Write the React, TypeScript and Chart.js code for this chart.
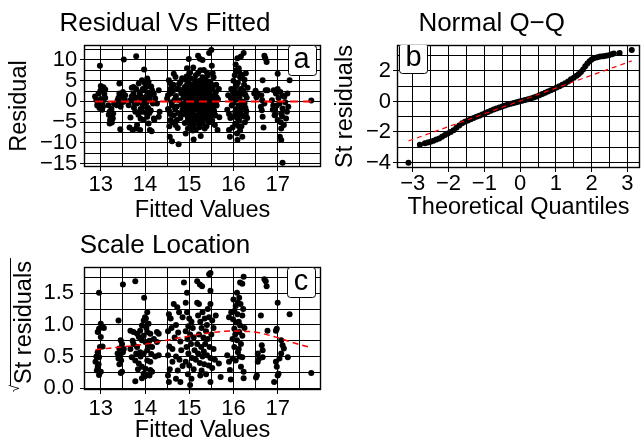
import React, { useEffect, useRef } from "react";
import { Chart, registerables } from "chart.js";

Chart.register(...registerables);

const FONT = '"Liberation Sans", Arial, Helvetica, sans-serif';

// ---------- Panel a: residual vs fitted (fitted, residual) ----------
const residualPoints: number[][] = [
  [12.87, 1.2], [12.9, 0.3], [12.93, -0.6], [12.95, 1.9], [12.97, -1.6], [12.98, 8.6], [13.0, 3.7], [13.02, 3.1],
  [12.99, 2.6], [13.03, -2.0], [13.05, -1.2], [13.0, 0.6], [13.06, 3.4], [13.08, 1.8], [13.1, 0.8], [12.92, -1.0],
  [13.04, -0.2], [13.1, 2.9],
  [13.17, -0.9], [13.18, -3.2], [13.2, -2.5], [13.22, -3.6], [13.21, -4.5], [13.25, -5.1], [13.27, -4.1], [13.24, -1.8],
  [13.28, -2.9], [13.2, -5.3], [13.3, -0.6], [13.26, -3.9],
  [13.36, -0.9], [13.38, 0.3], [13.42, 1.9], [13.42, 4.3], [13.44, -6.7], [13.45, -1.3], [13.48, 1.1], [13.52, -0.1],
  [13.52, 10.1], [13.5, 2.3], [13.55, 1.5], [13.4, 0.9], [13.46, -0.4], [13.54, 0.5],
  [13.63, -0.9], [13.65, -6.3], [13.67, 0.3], [13.67, -3.9], [13.7, 3.3], [13.72, -6.9], [13.74, 1.9], [13.74, 3.5],
  [13.76, -0.3], [13.78, -2.5], [13.8, 10.9], [13.8, -6.5], [13.82, -0.5], [13.82, -5.7], [13.84, 1.0], [13.86, 4.3],
  [13.88, 2.2], [13.89, 1.5], [13.89, -6.9], [13.9, -1.8], [13.92, 0.4], [13.93, 5.1], [13.93, -2.5], [13.95, 3.0],
  [13.7, 1.2], [13.75, -1.5], [13.85, -3.2], [13.78, 0.8],
  [13.8, 3.0], [13.9, -4.2], [14.0, 4.3], [14.1, -2.8], [14.05, 1.5], [13.95, -0.8], [14.2, 1.8],
  [13.97, 2.7], [13.97, -4.5], [13.98, 7.7], [14.0, -1.3], [14.01, 1.0], [14.03, 3.5], [14.04, -0.2], [14.05, 5.5],
  [14.05, -3.7], [14.06, 2.1], [14.08, 4.7], [14.08, -5.3], [14.1, 0.5], [14.11, -6.9], [14.12, 1.5], [14.13, -2.2],
  [14.15, -7.2], [14.16, 2.7], [14.18, -0.5], [14.2, -4.1], [14.21, -4.5], [14.23, 0.7], [14.27, -0.5], [14.31, 2.7],
  [14.31, -3.7], [14.33, -2.5], [14.0, 0.2], [14.02, -2.7], [14.14, 3.6], [14.07, -1.6],
  [14.5, 0.7], [14.52, -1.8], [14.54, 5.1], [14.54, -2.1], [14.56, -8.5], [14.57, 3.0], [14.58, 4.3], [14.58, 1.9],
  [14.58, -4.5], [14.6, -0.2], [14.61, -0.9], [14.61, -9.6], [14.63, 2.5], [14.65, 6.7], [14.65, -3.3], [14.67, 0.4],
  [14.69, 5.9], [14.69, -5.7], [14.7, 1.3], [14.72, -1.2], [14.73, 3.1], [14.75, -2.8], [14.76, -10.3], [14.77, 4.2],
  [14.78, 0.2], [14.8, 4.7], [14.8, -4.0], [14.82, 2.0], [14.83, -0.8], [14.84, 5.6], [14.85, -2.0], [14.55, -6.0],
  [14.62, -5.0], [14.74, -6.4],
  [14.52, 1.5], [14.57, -3.0], [14.64, 4.0], [14.68, -1.8], [14.72, -4.5], [14.79, 2.8], [14.82, -3.2], [14.6, 3.3],
  [14.87, 1.0], [14.88, -3.0], [14.9, 3.5], [14.9, -5.2], [14.92, -7.7], [14.93, 0.1], [14.94, 6.0], [14.95, -1.5],
  [14.96, 2.4], [14.97, -6.5], [14.98, 4.8], [14.99, 10.2], [15.0, -0.6], [15.0, -3.8], [15.01, 1.7], [15.02, 7.0],
  [15.03, -2.3], [15.04, 5.5], [15.05, -4.9], [15.06, 0.6], [15.07, 3.0], [15.08, -1.2], [15.09, 8.2], [15.1, -5.8],
  [15.1, -9.2], [15.11, 2.0], [15.12, -3.3], [15.13, 4.3], [15.14, -0.2], [15.15, 6.3], [14.97, -4.3], [15.03, 2.9],
  [15.08, -7.0], [14.91, 5.3], [15.12, 1.1],
  [15.16, -2.0], [15.17, 0.9], [15.18, 3.6], [15.19, -4.4], [15.2, 6.8], [15.2, 11.0], [15.21, -1.0], [15.22, 2.4],
  [15.23, -6.2], [15.24, 10.3], [15.24, 5.0], [15.25, -0.4], [15.26, -8.3], [15.27, 1.6], [15.28, -3.0], [15.29, 4.0],
  [15.3, 10.0], [15.3, -5.3], [15.31, -1.8], [15.32, 2.8], [15.33, 7.6], [15.34, 0.2], [15.35, -4.0], [15.36, 5.6],
  [15.37, -2.5], [15.38, 1.2], [15.39, -6.0], [15.4, 3.3], [15.41, -0.8], [15.42, 6.3], [15.43, -3.5], [15.44, 0.7],
  [15.45, 11.7], [15.45, -5.0], [15.22, -5.5], [15.27, -2.2], [15.33, 4.6], [15.38, -1.2], [15.26, 3.2], [15.41, 2.0],
  [15.46, 2.6], [15.47, -1.5], [15.48, 4.5], [15.49, -3.0], [15.5, 12.4], [15.5, 0.9], [15.51, 8.6], [15.52, -4.6],
  [15.53, 3.2], [15.54, -0.3], [15.55, 5.8], [15.56, -2.2], [15.57, 1.6], [15.58, -5.7], [15.6, 2.2], [15.62, -1.0],
  [15.64, -6.9], [15.65, 0.5], [15.67, 3.0], [15.68, -3.8], [15.53, 6.8], [15.59, -3.4], [15.61, 4.0],
  [14.88, -0.5], [14.9, 1.8], [14.92, -2.0], [14.95, 4.0], [14.98, -3.0], [15.0, 2.4], [15.02, -5.5], [15.05, 0.2],
  [15.06, -2.8], [15.1, 3.6], [15.12, 5.3], [15.14, -4.6], [15.16, 2.8], [15.18, -0.6], [15.2, 1.4], [15.22, 4.3],
  [15.24, -3.6], [15.28, 0.6], [15.3, 5.8], [15.32, -0.7], [15.34, -2.6], [15.36, 1.8], [15.38, 3.9], [15.4, -4.3],
  [15.42, -1.8], [15.44, 4.8], [15.46, -0.1], [15.48, 1.4], [15.5, -2.0], [15.52, 3.9], [15.55, -1.2], [15.58, 0.2],
  [15.6, -0.4], [15.47, -4.0], [15.35, -6.5], [15.15, -6.8], [15.0, 6.8],
  [14.86, 2.6], [14.89, -1.4], [14.93, 3.0], [14.96, -3.6], [14.99, 0.8], [15.01, -1.8], [15.04, 4.0], [15.07, -0.6],
  [15.09, 1.3], [15.11, -4.0], [15.13, -1.9], [15.17, 4.8], [15.19, 2.0], [15.21, 0.2], [15.23, -2.8], [15.25, 1.0],
  [15.29, -1.2], [15.31, 3.6], [15.35, -0.8], [15.37, 2.6], [15.39, -3.2], [15.43, 1.6], [15.45, -2.6], [15.49, 3.4],
  [15.51, -1.0], [15.54, 1.0], [15.57, -3.0], [15.62, 1.0], [15.18, -3.4], [15.28, -4.6], [15.03, -6.0], [15.4, 7.0],
  [15.25, 7.5], [14.95, 8.0],
  [15.86, -2.0], [15.88, 1.5], [15.9, -6.9], [15.92, -8.5], [15.93, -4.0], [15.95, 3.0], [15.96, -1.0], [15.97, 0.4],
  [15.98, -6.3], [15.99, 2.2], [15.9, -3.0], [15.94, 0.8],
  [16.0, 5.0], [16.01, -0.3], [16.02, -3.5], [16.03, 1.8], [16.04, -5.4], [16.05, 8.9], [16.05, 3.6], [16.06, -1.8],
  [16.07, 0.6], [16.08, -7.7], [16.09, 10.4], [16.09, -9.3], [16.1, 4.5], [16.1, -2.8], [16.11, 2.2], [16.12, -0.9],
  [16.13, 7.1], [16.13, -4.5], [16.14, 1.1], [16.15, 5.8], [16.16, -2.1], [16.17, 10.8], [16.17, 3.0], [16.18, -6.0],
  [16.19, 0.0], [16.2, -8.5], [16.2, 6.4], [16.21, -1.3], [16.22, 2.6], [16.23, 11.7], [16.23, -3.6], [16.24, 4.0],
  [16.25, -0.5], [16.26, -5.0], [16.27, 1.6], [16.28, 6.8], [16.29, -2.3], [16.3, 0.9], [16.31, -4.0], [16.32, 3.3],
  [16.03, 6.3], [16.08, -4.0], [16.15, -7.0], [16.02, 2.8], [16.12, 8.0], [16.18, -3.2], [16.27, -1.5],
  [16.01, 1.0], [16.04, -2.5], [16.07, 4.0], [16.11, -5.9], [16.14, -1.2], [16.19, 2.0], [16.22, -0.2], [16.25, 5.2],
  [16.28, -3.2], [16.06, 7.5],
  [16.47, 1.9], [16.5, 2.6], [16.52, 1.0], [16.55, 1.9], [16.62, -1.3], [16.64, -2.1], [16.65, 0.3], [16.66, 5.1],
  [16.66, -3.7], [16.68, -6.3], [16.7, 11.0], [16.72, 10.4], [16.75, 9.5], [16.7, -0.5], [16.73, 2.7], [16.77, 2.7],
  [16.63, 1.5],
  [16.87, 0.3], [16.89, -2.0], [16.91, 2.7], [16.93, -3.3], [16.94, -2.1], [16.96, 1.9], [16.98, -1.0], [17.0, 6.7],
  [17.0, -4.5], [17.02, 0.8], [17.04, -0.5], [17.05, -8.5], [17.06, 2.3], [17.07, -5.0], [17.08, -2.9], [17.08, -6.5],
  [17.08, -9.3], [17.1, -3.6], [17.11, -1.7], [17.11, -14.8], [17.12, 1.4], [17.14, -5.7], [17.15, 1.1], [17.17, -0.2],
  [17.19, -4.1], [17.21, -2.5], [17.22, 1.9], [17.24, -1.3], [17.27, 5.1], [16.9, -1.0], [17.0, 3.0],
  [17.76, 0.2],
];
const residualZeroLine: number[][] = [[12.87, 0], [17.76, 0]];

// ---------- Panel b: normal Q-Q (theoretical, standardized residual) ----------
const qqPoints: number[][] = [
  [-3.12, -4.01], [-2.8, -2.83], [-2.66, -2.73], [-2.58, -2.69], [-2.5, -2.64], [-2.42, -2.57], [-2.34, -2.5],
  [-2.26, -2.42], [-2.18, -2.31], [-2.1, -2.2], [-2.02, -2.1], [-1.94, -2.0], [-1.86, -1.88], [-1.78, -1.73],
  [-1.7, -1.58], [-1.62, -1.43], [-1.54, -1.33], [-1.46, -1.24], [-1.38, -1.16], [-1.3, -1.08], [-1.22, -1.0],
  [-1.14, -0.93], [-1.06, -0.85], [-0.98, -0.77], [-0.9, -0.69], [-0.82, -0.61], [-0.74, -0.53], [-0.66, -0.46],
  [-0.58, -0.39], [-0.5, -0.33], [-0.42, -0.27], [-0.34, -0.2], [-0.26, -0.15], [-0.18, -0.1], [-0.1, -0.05],
  [-0.02, 0.0], [0.06, 0.05], [0.14, 0.09], [0.22, 0.14], [0.3, 0.2], [0.38, 0.26], [0.46, 0.33], [0.54, 0.41],
  [0.62, 0.49], [0.7, 0.57], [0.78, 0.65], [0.86, 0.73], [0.94, 0.82], [1.02, 0.91], [1.1, 1.0], [1.18, 1.09],
  [1.26, 1.19], [1.34, 1.31], [1.42, 1.45], [1.5, 1.56], [1.58, 1.68], [1.64, 1.8], [1.7, 1.93], [1.76, 2.1],
  [1.82, 2.3], [1.88, 2.48], [1.94, 2.63], [2.0, 2.75], [2.08, 2.84], [2.16, 2.9], [2.24, 2.94], [2.32, 2.97],
  [2.4, 3.0], [2.48, 3.03], [2.56, 3.1], [2.62, 3.15], [2.78, 3.18], [3.12, 3.37],
];
const qqLine: number[][] = [[-3.12, -2.59], [3.12, 2.66]];

// ---------- Panel c: scale location (fitted, sqrt |std residual|) ----------
const scalePoints: number[][] = [
  [12.96, 1.51], [13.0, 1.02], [12.96, 0.94], [12.93, 0.89], [13.02, 0.97], [13.07, 0.95], [13.0, 0.81], [12.98, 0.65],
  [12.93, 0.57], [12.96, 0.49], [12.88, 0.42], [12.9, 0.5], [12.93, 0.34], [13.0, 0.26], [12.96, 0.21], [12.91, 0.28],
  [13.04, 0.66], [12.95, 0.38],
  [13.5, 1.64], [13.4, 1.07], [13.45, 0.76], [13.48, 0.7], [13.42, 0.63], [13.5, 0.57], [13.44, 0.52], [13.4, 0.47],
  [13.46, 0.44], [13.42, 0.38], [13.48, 0.26], [13.45, 0.24], [13.38, 0.55], [13.52, 0.62],
  [13.78, 1.69], [13.98, 1.43], [14.05, 1.2], [14.0, 1.12], [13.97, 1.07], [13.93, 0.99], [14.08, 1.02], [14.02, 1.1],
  [13.67, 0.91], [13.74, 0.89], [13.82, 0.86], [13.89, 0.91], [13.97, 0.83], [14.05, 0.89], [14.12, 0.86], [13.86, 0.81],
  [13.93, 0.76], [14.01, 0.73], [13.74, 0.7], [13.67, 0.62], [13.82, 0.65], [13.89, 0.57], [13.97, 0.55], [14.05, 0.6],
  [14.08, 0.68], [14.16, 0.65], [13.7, 0.49], [13.78, 0.44], [13.86, 0.39], [13.93, 0.34], [14.01, 0.31], [14.05, 0.44],
  [14.12, 0.42], [13.97, 0.23], [14.05, 0.21], [13.93, 0.16], [14.12, 0.29], [14.27, 0.89], [14.31, 0.52], [14.27, 0.73],
  [14.2, 0.78], [13.78, 0.11], [14.0, 0.19], [14.1, 0.2], [14.16, 0.26], [14.23, 0.5], [14.31, 0.86], [13.72, 0.75],
  [13.8, 0.55], [14.1, 0.75], [13.9, 0.5], [14.03, 0.95], [14.14, 0.54], [13.84, 0.3],
  [14.65, 1.33], [14.54, 1.17], [14.58, 1.1], [14.73, 1.28], [14.77, 1.2], [14.85, 1.12], [14.7, 1.0], [14.6, 0.95],
  [14.52, 0.9], [14.75, 0.88], [14.67, 0.8], [14.8, 0.74], [14.55, 0.66], [14.52, 0.52], [14.7, 0.5], [14.62, 0.42],
  [14.78, 0.45], [14.56, 0.3], [14.74, 0.28], [14.52, 0.2], [14.7, 0.15], [14.54, 0.1], [14.82, 0.6], [14.88, 1.67],
  [14.92, 1.35], [14.95, 1.51], [14.62, 0.62], [14.85, 0.35], [14.8, 0.1],
  [14.95, 1.2], [15.0, 1.1], [14.98, 0.98], [15.05, 1.05], [14.92, 0.9], [15.02, 0.85], [15.08, 0.95], [14.96, 0.78],
  [15.1, 0.8], [14.94, 0.65], [15.04, 0.7], [15.12, 0.6], [14.98, 0.55], [15.06, 0.48], [14.92, 0.42], [15.0, 0.36],
  [15.1, 0.3], [14.97, 0.22], [15.05, 0.15], [15.02, 0.05], [15.18, 1.69], [15.24, 1.64], [15.29, 1.61], [15.45, 1.8],
  [15.48, 1.82], [15.48, 1.54], [15.18, 1.35], [15.22, 1.33], [15.48, 1.33], [15.2, 1.15], [15.25, 1.05], [15.3, 1.2],
  [15.35, 1.1], [15.4, 1.0], [15.28, 0.95], [15.38, 0.9], [15.45, 1.12], [15.52, 1.07], [15.6, 1.15], [15.55, 0.95],
  [15.22, 0.85], [15.32, 0.8], [15.42, 0.78], [15.5, 0.85], [15.18, 0.7], [15.27, 0.65], [15.36, 0.7], [15.46, 0.65],
  [15.55, 0.62], [15.2, 0.55], [15.3, 0.5], [15.4, 0.52], [15.48, 0.48], [15.58, 0.45], [15.24, 0.4], [15.34, 0.38],
  [15.44, 0.36], [15.52, 0.32], [15.28, 0.28], [15.38, 0.22], [15.25, 0.2], [15.48, 0.1], [15.67, 0.39], [15.15, 0.45],
  [15.42, 1.25], [15.33, 0.58],
  [15.71, 0.18], [15.94, 0.14], [15.92, 0.29], [15.86, 0.52], [15.98, 0.47], [15.9, 1.12], [15.95, 1.2], [15.9, 0.42],
  [16.23, 1.76], [16.15, 1.67], [16.2, 1.65], [16.08, 1.51], [16.13, 1.43], [16.1, 1.35], [16.16, 1.33], [16.02, 1.22],
  [16.09, 1.17], [16.2, 1.15], [15.99, 1.09], [16.06, 1.04], [16.15, 0.99], [16.02, 0.94], [16.13, 0.89], [16.2, 0.83],
  [15.98, 0.78], [16.08, 0.76], [16.17, 0.7], [16.02, 0.65], [16.1, 0.57], [16.2, 0.49], [16.05, 0.44], [16.17, 0.34],
  [16.23, 0.26], [16.23, 0.16], [16.05, 1.3], [16.12, 1.05], [16.22, 1.25], [16.04, 0.85], [16.12, 0.62], [16.25, 0.95],
  [16.0, 1.4], [16.14, 0.5],
  [16.7, 1.72], [16.73, 1.69], [16.75, 1.61], [16.62, 1.15], [16.77, 0.91], [16.64, 0.68], [16.66, 0.6], [16.55, 0.55],
  [16.58, 0.47], [16.55, 0.42], [16.66, 0.49], [16.51, 0.17], [16.53, 0.2],
  [17.0, 1.35], [17.27, 1.17], [16.96, 0.91], [16.98, 0.94], [17.08, 0.76], [17.11, 0.68], [17.14, 0.63], [17.08, 0.55],
  [17.04, 0.47], [16.96, 0.42], [17.23, 0.49], [16.98, 0.34], [17.02, 0.23], [16.92, 0.1], [17.0, 0.2],
  [17.76, 0.24],
];
const scaleSmooth: number[][] = [
  [12.88, 0.61], [13.5, 0.655], [14.0, 0.695], [14.5, 0.76], [15.0, 0.825], [15.5, 0.88], [16.0, 0.905],
  [16.5, 0.885], [17.0, 0.8], [17.3, 0.73], [17.76, 0.64],
];

// ---------- texts ----------
const panelTitles = ["Residual Vs Fitted", "Normal Q\u2212Q", "Scale Location"];
const xTitles = ["Fitted Values", "Theoretical Quantiles", "Fitted Values"];
const yTitles = ["Residual", "St residuals", "St residuals"];
const panelLetters = ["a", "b", "c"];
const letterAnchors: number[][] = [[17.54, 9.95], [-2.98, 2.88], [17.53, 1.68]];

type Spec = {
  left: number; top: number; width: number; height: number;
  pad: { left: number; right: number; top: number; bottom: number };
  yWidth: number; xHeight: number;
  title: string; titleX: number; titleY: number;
  xTitle: string; yTitle: string; radical: boolean;
  xMin: number; xMax: number; xStep: number; xMajor: number;
  yMin: number; yMax: number; yStep: number; yMajor: number; yDec: number;
  xTickPad: number; yTickPad: number; xTitlePad: number; yTitlePad: number;
  points: number[][]; line: number[][]; lineWidth: number; dash: number[]; tension: number;
  letter: string; letterAt: number[];
};

const isMajor = (v: number, m: number) => Math.abs(v / m - Math.round(v / m)) < 1e-6;
const fmt = (v: number, dec: number) => (dec > 0 ? v.toFixed(dec) : String(Math.round(v))).replace("-", "\u2212");

function overlay(spec: Spec) {
  return {
    id: "overlay" + spec.letter,
    afterDraw(chart: any) {
      const { ctx, chartArea, scales } = chart;
      const { left, right, top, bottom } = chartArea;
      ctx.save();
      // panel frame
      ctx.strokeStyle = "#000";
      ctx.lineWidth = 1.4;
      ctx.strokeRect(Math.round(left) + 0.5, Math.round(top) + 0.5, Math.round(right - left) - 1, Math.round(bottom - top) - 1);
      // letter label
      ctx.save();
      ctx.beginPath();
      ctx.rect(left, top, right - left, bottom - top);
      ctx.clip();
      const px = scales.x.getPixelForValue(spec.letterAt[0]);
      const py = scales.y.getPixelForValue(spec.letterAt[1]);
      const bw = 28, bh = 30, r = 3;
      const bx = Math.round(px - bw / 2) + 0.5, by = Math.round(py - bh / 2) + 0.5;
      ctx.beginPath();
      ctx.roundRect(bx, by, bw, bh, r);
      ctx.fillStyle = "#fff";
      ctx.fill();
      ctx.strokeStyle = "#000";
      ctx.lineWidth = 1;
      ctx.stroke();
      ctx.fillStyle = "#000";
      ctx.font = `29px ${FONT}`;
      ctx.textAlign = "center";
      ctx.textBaseline = "middle";
      ctx.fillText(spec.letter, px, py);
      ctx.restore();
      // plot title
      ctx.fillStyle = "#000";
      ctx.font = `26px ${FONT}`;
      ctx.textAlign = "center";
      ctx.textBaseline = "middle";
      ctx.fillText(spec.title, spec.titleX, spec.titleY);
      // sqrt y title
      if (spec.radical) {
        const cx = 25;
        const cy = (top + bottom) / 2 - 6;
        ctx.translate(cx, cy);
        ctx.rotate(-Math.PI / 2);
        ctx.font = `23.5px ${FONT}`;
        const w = ctx.measureText(spec.yTitle).width;
        ctx.fillText(spec.yTitle, 0, 0);
        ctx.font = `13px ${FONT}`;
        ctx.textAlign = "right";
        ctx.textBaseline = "top";
        ctx.fillText("\u221A", -w / 2 - 1, -16);
        ctx.beginPath();
        ctx.moveTo(-w / 2 - 2, -14.5);
        ctx.lineTo(w / 2 + 3, -14.5);
        ctx.lineWidth = 1;
        ctx.strokeStyle = "#000";
        ctx.stroke();
      }
      ctx.restore();
    },
  };
}

function buildConfig(spec: Spec): any {
  const tickFont = { family: FONT, size: 22, lineHeight: 1 };
  const titleFont = { family: FONT, size: 23.5, lineHeight: 1 };
  return {
    type: "scatter",
    data: {
      datasets: [
        {
          data: spec.line.map(([x, y]) => ({ x, y })),
          showLine: true,
          borderColor: "#ff0000",
          borderWidth: spec.lineWidth,
          borderDash: spec.dash,
          pointRadius: 0,
          tension: spec.tension,
          fill: false,
          order: 0,
        },
        {
          data: spec.points.map(([x, y]) => ({ x, y })),
          pointRadius: 3,
          pointBackgroundColor: "#000",
          pointBorderWidth: 0,
          backgroundColor: "#000",
          borderColor: "#000",
          order: 1,
        },
      ],
    },
    options: {
      animation: false,
      responsive: false,
      maintainAspectRatio: false,
      devicePixelRatio: 1,
      events: [],
      layout: { padding: spec.pad },
      plugins: { legend: { display: false }, tooltip: { enabled: false }, title: { display: false } },
      scales: {
        x: {
          type: "linear",
          position: "bottom",
          min: spec.xMin,
          max: spec.xMax,
          afterFit: (s: any) => { s.height = spec.xHeight; },
          border: { display: false },
          grid: {
            color: "#000",
            lineWidth: 1,
            drawTicks: true,
            tickLength: 4,
            tickColor: (c: any) => (c.tick && isMajor(c.tick.value, spec.xMajor) ? "#000" : "rgba(0,0,0,0)"),
          },
          ticks: {
            stepSize: spec.xStep,
            includeBounds: false,
            autoSkip: false,
            maxRotation: 0,
            minRotation: 0,
            padding: spec.xTickPad,
            color: "#000",
            font: tickFont,
            callback: (v: number) => (isMajor(v, spec.xMajor) ? fmt(v, 0) : ""),
          },
          title: { display: true, text: spec.xTitle, color: "#000", font: titleFont, padding: { top: 0, bottom: spec.xTitlePad } },
        },
        y: {
          type: "linear",
          position: "left",
          min: spec.yMin,
          max: spec.yMax,
          afterFit: (s: any) => { s.width = spec.yWidth; },
          border: { display: false },
          grid: {
            color: "#000",
            lineWidth: 1,
            drawTicks: true,
            tickLength: 4,
            tickColor: (c: any) => (c.tick && isMajor(c.tick.value, spec.yMajor) ? "#000" : "rgba(0,0,0,0)"),
          },
          ticks: {
            stepSize: spec.yStep,
            includeBounds: false,
            autoSkip: false,
            padding: spec.yTickPad,
            color: "#000",
            font: tickFont,
            callback: (v: number) => (isMajor(v, spec.yMajor) ? fmt(v, spec.yDec) : ""),
          },
          title: {
            display: !spec.radical,
            text: spec.yTitle,
            color: "#000",
            font: titleFont,
            padding: { top: spec.yTitlePad, bottom: 0 },
          },
        },
      },
    },
    plugins: [overlay(spec)],
  };
}

const specs: Spec[] = [
  {
    left: 0, top: 0, width: 330, height: 230,
    pad: { left: 0, right: 9, top: 45, bottom: 0 }, yWidth: 84, xHeight: 63,
    title: panelTitles[0], titleX: 165, titleY: 23.5,
    xTitle: xTitles[0], yTitle: yTitles[0], radical: false,
    xMin: 12.62, xMax: 17.98, xStep: 0.5, xMajor: 1,
    yMin: -15.8, yMax: 13.6, yStep: 2.5, yMajor: 5, yDec: 0,
    xTickPad: 2.5, yTickPad: 2.7, xTitlePad: 7.25, yTitlePad: 8.25,
    points: residualPoints, line: residualZeroLine, lineWidth: 2, dash: [8, 5], tension: 0,
    letter: panelLetters[0], letterAt: letterAnchors[0],
  },
  {
    left: 326, top: 0, width: 318, height: 222,
    pad: { left: 0, right: 0, top: 45, bottom: 0 }, yWidth: 71, xHeight: 54,
    title: panelTitles[1], titleX: 165.7, titleY: 24.2,
    xTitle: xTitles[1], yTitle: yTitles[1], radical: false,
    xMin: -3.44, xMax: 3.35, xStep: 0.5, xMajor: 1,
    yMin: -4.36, yMax: 3.7, yStep: 1, yMajor: 2, yDec: 0,
    xTickPad: 0.7, yTickPad: 2, xTitlePad: 2.95, yTitlePad: 7.35,
    points: qqPoints, line: qqLine, lineWidth: 1.2, dash: [5, 4], tension: 0,
    letter: panelLetters[1], letterAt: letterAnchors[1],
  },
  {
    left: 0, top: 222, width: 330, height: 221,
    pad: { left: 0, right: 9, top: 45, bottom: 0 }, yWidth: 84, xHeight: 53,
    title: panelTitles[2], titleX: 165, titleY: 24.2,
    xTitle: xTitles[2], yTitle: yTitles[2], radical: true,
    xMin: 12.62, xMax: 17.98, xStep: 0.5, xMajor: 1,
    yMin: -0.027, yMax: 1.915, yStep: 0.25, yMajor: 0.5, yDec: 1,
    xTickPad: 4.2, yTickPad: 6, xTitlePad: 0.25, yTitlePad: 8,
    points: scalePoints, line: scaleSmooth, lineWidth: 1.5, dash: [6, 4], tension: 0.35,
    letter: panelLetters[2], letterAt: letterAnchors[2],
  },
];

function Panel({ spec }: { spec: Spec }) {
  const ref = useRef<HTMLCanvasElement>(null);
  useEffect(() => {
    const chart = new Chart(ref.current as HTMLCanvasElement, buildConfig(spec));
    return () => chart.destroy();
  }, [spec]);
  return (
    <canvas
      ref={ref}
      width={spec.width}
      height={spec.height}
      style={{ position: "absolute", left: spec.left, top: spec.top, width: spec.width, height: spec.height }}
    />
  );
}

export default function App() {
  return (
    <div style={{ position: "absolute", left: 0, top: 0, width: 644, height: 443, background: "#fff", overflow: "hidden" }}>
      {specs.map((s, i) => (
        <Panel key={i} spec={s} />
      ))}
    </div>
  );
}
